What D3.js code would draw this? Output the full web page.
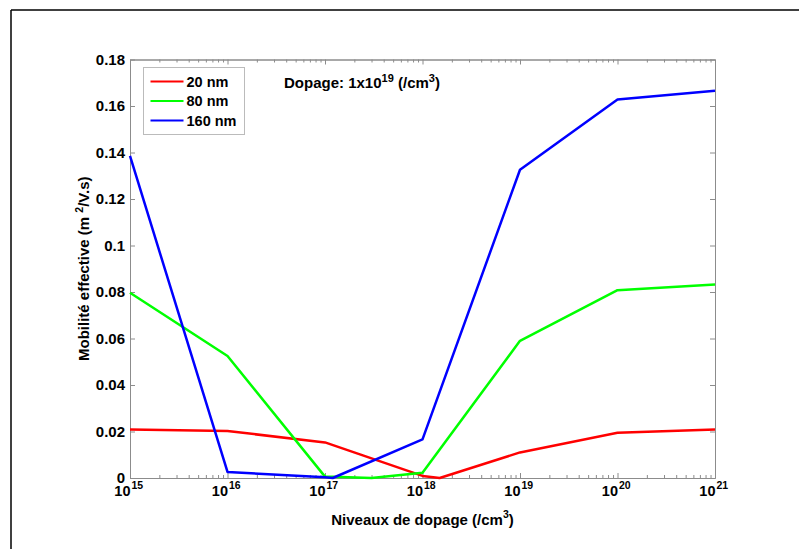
<!DOCTYPE html>
<html>
<head>
<meta charset="utf-8">
<script src="https://cdn.jsdelivr.net/npm/d3@7"></script>
<style>
  body { margin: 0; background: #fff; }
  svg { font-family: "Liberation Sans", Arial, sans-serif; font-weight: bold; }
</style>
</head>
<body>
<div id="chart"></div>
<script>
const w = 799;
const h = 549;
const margin = {top: 59.5, right: 84, bottom: 71, left: 130};

// data (x = dopage level, y = mobility)
const seriesNames = ["20 nm", "80 nm", "160 nm"];
const seriesColors = ["#ff0000", "#00ff00", "#0000ff"];

const x20 = [1e15, 1e16, 1e17, 1e18, 1.5e18, 1e19, 1e20, 1e21];
const y20 = [0.0209, 0.0202, 0.0153, 0.0009, 0.0, 0.0110, 0.0195, 0.0209];

const x80 = [1e15, 1e16, 1e17, 3e17, 1e18, 1e19, 1e20, 1e21];
const y80 = [0.0797, 0.0525, 0.0006, 0.0, 0.0023, 0.0590, 0.0808, 0.0832];

const x160 = [1e15, 1e16, 1e17, 1.2e17, 1e18, 1e19, 1e20, 1e21];
const y160 = [0.1385, 0.0026, 0.0003, 0.0, 0.0166, 0.1326, 0.1628, 0.1666];

const xMajor = [1e15, 1e16, 1e17, 1e18, 1e19, 1e20, 1e21];
const yTicks = [0, 0.02, 0.04, 0.06, 0.08, 0.1, 0.12, 0.14, 0.16, 0.18];

const series = [
  {name: seriesNames[0], color: seriesColors[0], xs: x20, ys: y20},
  {name: seriesNames[1], color: seriesColors[1], xs: x80, ys: y80},
  {name: seriesNames[2], color: seriesColors[2], xs: x160, ys: y160}
];

const svg = d3.select("#chart")
    .append("svg")
    .attr("width", w)
    .attr("height", h);

// figure frame (only top & left visible)
svg.append("line").attr("x1", 11).attr("x2", w).attr("y1", 10).attr("y2", 10)
    .attr("stroke", "#000").attr("stroke-width", 1.5);
svg.append("line").attr("x1", 11).attr("x2", 11).attr("y1", 10).attr("y2", h)
    .attr("stroke", "#000").attr("stroke-width", 1.5);

const x = d3.scaleLog()
    .domain([1e15, 1e21])
    .range([margin.left, w - margin.right]);

const y = d3.scaleLinear()
    .domain([0, 0.18])
    .range([h - margin.bottom, margin.top]);

// minor log ticks
const xMinor = [];
for (let e = 15; e < 21; e++) {
  for (let m = 2; m <= 9; m++) xMinor.push(m * Math.pow(10, e));
}

const axisColor = "#8c8c8c";

function styleAxis(g) {
  g.attr("font-family", null).attr("font-size", null);
  g.select(".domain").attr("stroke", axisColor).attr("stroke-width", 1);
  g.selectAll(".tick line").attr("stroke", axisColor);
}

// bottom axis: minor + major ticks
svg.append("g")
    .attr("transform", "translate(0," + y(0) + ")")
    .call(d3.axisBottom(x).tickValues(xMinor).tickSize(-3).tickSizeOuter(0).tickFormat(""))
    .call(styleAxis);

const xAxis = svg.append("g")
    .attr("transform", "translate(0," + y(0) + ")")
    .call(d3.axisBottom(x).tickValues(xMajor).tickSize(-5).tickSizeOuter(0).tickFormat(""))
    .call(styleAxis);

xAxis.selectAll(".tick text").remove();
xAxis.selectAll(".tick").each(function(d) {
  const t = d3.select(this).append("text")
      .attr("fill", "#000")
      .attr("font-size", 14.5)
      .attr("text-anchor", "start")
      .attr("y", 17.5);
  const base = t.append("tspan").text("10");
  const len = base.node().getComputedTextLength();
  t.attr("x", -len);
  t.append("tspan")
      .attr("font-size", 10.5)
      .attr("dx", 1)
      .attr("dy", -7)
      .text(Math.round(Math.log10(d)));
});

// top axis
svg.append("g")
    .attr("transform", "translate(0," + y(0.18) + ")")
    .call(d3.axisTop(x).tickValues(xMinor).tickSize(-3).tickSizeOuter(0).tickFormat(""))
    .call(styleAxis);
svg.append("g")
    .attr("transform", "translate(0," + y(0.18) + ")")
    .call(d3.axisTop(x).tickValues(xMajor).tickSize(-5).tickSizeOuter(0).tickFormat(""))
    .call(styleAxis);

// left axis
svg.append("g")
    .attr("transform", "translate(" + x(1e15) + ",0)")
    .call(d3.axisLeft(y).tickValues(yTicks).tickSize(-5).tickSizeOuter(0).tickPadding(5)
        .tickFormat(d => d3.format(".2~f")(d)))
    .call(styleAxis)
    .call(g => g.selectAll(".tick text").attr("fill", "#000").attr("font-size", 15));

// right axis
svg.append("g")
    .attr("transform", "translate(" + x(1e21) + ",0)")
    .call(d3.axisRight(y).tickValues(yTicks).tickSize(-5).tickSizeOuter(0).tickFormat(""))
    .call(styleAxis);

// lines
const line = d3.line()
    .x(d => x(d[0]))
    .y(d => y(d[1]));

svg.selectAll(".series")
    .data(series)
    .enter()
    .append("path")
    .attr("class", "series")
    .attr("fill", "none")
    .attr("stroke", d => d.color)
    .attr("stroke-width", 2.5)
    .attr("stroke-linejoin", "round")
    .attr("d", d => line(d.xs.map((v, i) => [v, d.ys[i]])));

// legend
const legend = svg.append("g").attr("transform", "translate(143.5,67.5)");
legend.append("rect")
    .attr("width", 101)
    .attr("height", 67)
    .attr("fill", "#fff")
    .attr("stroke", "#bbb")
    .attr("stroke-width", 1);

const items = legend.selectAll(".item")
    .data(series)
    .enter()
    .append("g")
    .attr("transform", (d, i) => "translate(0," + (14 + i * 19.5) + ")");
items.append("line")
    .attr("x1", 7).attr("x2", 40)
    .attr("stroke", d => d.color)
    .attr("stroke-width", 2);
items.append("text")
    .attr("x", 43)
    .attr("y", 5)
    .attr("font-size", 14.5)
    .text(d => d.name);

// annotation
const ann = svg.append("text")
    .attr("x", 284)
    .attr("y", 88)
    .attr("font-size", 15);
ann.append("tspan").text("Dopage: 1x10");
ann.append("tspan").attr("font-size", 11).attr("dy", -6).text("19");
ann.append("tspan").attr("dy", 6).text(" (/cm");
ann.append("tspan").attr("font-size", 11).attr("dy", -6).text("3");
ann.append("tspan").attr("dy", 6).text(")");

// x label
const xl = svg.append("text")
    .attr("x", (x(1e15) + x(1e21)) / 2)
    .attr("y", 525)
    .attr("text-anchor", "middle")
    .attr("font-size", 15);
xl.append("tspan").text("Niveaux de dopage (/cm");
xl.append("tspan").attr("font-size", 10.5).attr("dy", -7).text("3");
xl.append("tspan").attr("dy", 7).text(")");

// y label
const yl = svg.append("text")
    .attr("transform", "translate(89," + (y(0) + y(0.18)) / 2 + ") rotate(-90)")
    .attr("text-anchor", "middle")
    .attr("font-size", 15);
yl.append("tspan").text("Mobilité effective (m ");
yl.append("tspan").attr("font-size", 10.5).attr("dy", -6).text("2");
yl.append("tspan").attr("dy", 6).text("/V.s)");
</script>
</body>
</html>
